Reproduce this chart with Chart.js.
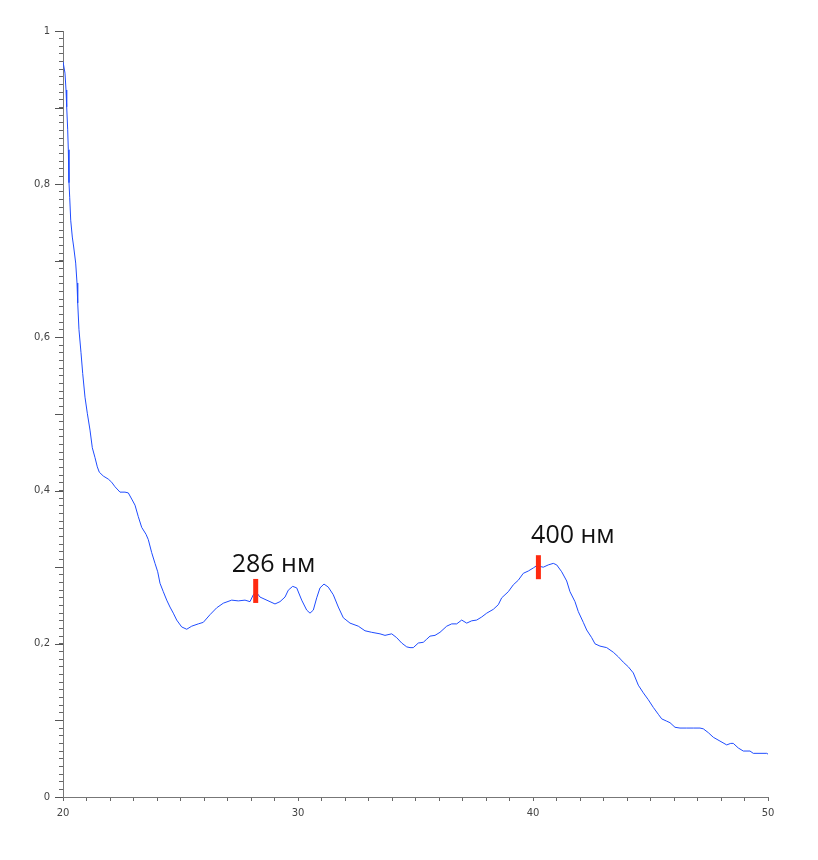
<!DOCTYPE html>
<html>
<head>
<meta charset="utf-8">
<script src="https://cdn.jsdelivr.net/npm/chart.js@4/dist/chart.umd.min.js"></script>
<style>
html,body{margin:0;padding:0;background:#fff;}
#wrap{width:818px;height:860px;}
canvas{display:block;}
</style>
</head>
<body>
<div id="wrap"><canvas id="c" width="818" height="860"></canvas></div>
<script>
// ---- data ----
const xValues = [
  20.00, 20.085, 20.128, 20.157, 20.20, 20.226, 20.255, 20.285, 20.328, 20.396,
  20.455, 20.54, 20.596, 20.626, 20.68, 20.766, 20.838, 20.936, 21.034, 21.149,
  21.247, 21.362, 21.46, 21.545, 21.715, 21.928, 22.07, 22.213, 22.426, 22.638,
  22.779, 22.923, 23.064, 23.204, 23.349, 23.532, 23.63, 23.774, 23.915, 24.03,
  24.128, 24.268, 24.413, 24.553, 24.694, 24.838, 25.051, 25.264, 25.477, 25.757,
  25.97, 26.255, 26.54, 26.821, 27.179, 27.46, 27.745, 27.957, 28.098, 28.213,
  28.383, 28.596, 28.809, 29.021, 29.234, 29.447, 29.587, 29.774, 29.945, 30.157,
  30.37, 30.511, 30.651, 30.796, 30.936, 31.106, 31.289, 31.502, 31.715, 31.928,
  32.213, 32.566, 32.851, 33.136, 33.489, 33.702, 33.987, 34.20, 34.413, 34.626,
  34.766, 34.906, 35.119, 35.332, 35.477, 35.617, 35.83, 36.043, 36.328, 36.54,
  36.753, 36.966, 37.179, 37.391, 37.604, 37.817, 38.03, 38.311, 38.523, 38.668,
  38.949, 39.162, 39.374, 39.587, 39.80, 40.013, 40.157, 40.438, 40.651, 40.864,
  41.009, 41.221, 41.434, 41.574, 41.787, 41.928, 42.14, 42.285, 42.498, 42.638,
  42.851, 43.136, 43.417, 43.63, 43.843, 44.055, 44.268, 44.481, 44.694, 44.906,
  45.119, 45.332, 45.477, 45.689, 45.83, 46.043, 46.255, 46.54, 46.821, 47.106,
  47.247, 47.46, 47.672, 47.957, 48.243, 48.413, 48.523, 48.736, 48.949, 49.234,
  49.374, 49.66, 49.945, 50.00
];
const absorbance = [
  0.960, 0.945, 0.923, 0.901, 0.871, 0.845, 0.802, 0.783, 0.753, 0.731,
  0.718, 0.697, 0.671, 0.645, 0.610, 0.580, 0.553, 0.522, 0.501, 0.479,
  0.456, 0.443, 0.431, 0.424, 0.419, 0.415, 0.411, 0.405, 0.398, 0.398,
  0.397, 0.389, 0.381, 0.366, 0.352, 0.343, 0.336, 0.319, 0.305, 0.294,
  0.279, 0.268, 0.257, 0.248, 0.240, 0.231, 0.222, 0.219, 0.223, 0.226,
  0.228, 0.238, 0.247, 0.253, 0.257, 0.256, 0.257, 0.255, 0.264, 0.268,
  0.261, 0.258, 0.255, 0.252, 0.255, 0.261, 0.270, 0.275, 0.273, 0.257,
  0.244, 0.240, 0.244, 0.260, 0.273, 0.278, 0.274, 0.264, 0.248, 0.234,
  0.227, 0.223, 0.217, 0.215, 0.213, 0.211, 0.213, 0.208, 0.201, 0.196,
  0.195, 0.195, 0.201, 0.202, 0.206, 0.210, 0.211, 0.215, 0.223, 0.226,
  0.226, 0.231, 0.227, 0.230, 0.231, 0.235, 0.240, 0.245, 0.251, 0.260,
  0.268, 0.277, 0.283, 0.292, 0.295, 0.299, 0.302, 0.300, 0.303, 0.305,
  0.303, 0.294, 0.282, 0.268, 0.255, 0.242, 0.228, 0.218, 0.208, 0.200,
  0.197, 0.195, 0.189, 0.183, 0.176, 0.170, 0.162, 0.146, 0.136, 0.127,
  0.117, 0.108, 0.102, 0.099, 0.097, 0.091, 0.090, 0.090, 0.090, 0.090,
  0.089, 0.084, 0.078, 0.073, 0.068, 0.070, 0.070, 0.064, 0.060, 0.060,
  0.057, 0.057, 0.057, 0.056
];
const xTickLabels = ['20', '30', '40', '50'];
const yTickLabels = ['0', '0,2', '0,4', '0,6', '0,8', '1'];
const peakNames = ['286 нм', '400 нм'];
const peakX = [28.2, 40.23];
const peakY = [0.269, 0.300];
const peakLabelX = [27.18, 39.92];
const peakLabelY = [0.294, 0.332];

// ---- chart ----
const points = xValues.map((x, i) => ({ x: x, y: absorbance[i] }));

const yTickValues = [];
for (let i = 0; i <= 100; i++) yTickValues.push(i / 100);
const xTickValues = [];
for (let i = 20; i <= 50; i++) xTickValues.push(i);

const annotationPlugin = {
  id: 'peakMarks',
  afterDraw(chart) {
    const ctx = chart.ctx;
    const xs = chart.scales.x, ys = chart.scales.y;
    ctx.save();
    // medium ticks on y axis at every 0.1
    ctx.strokeStyle = '#555';
    ctx.lineWidth = 1;
    for (let i = 0; i <= 10; i++) {
      const py = Math.round(ys.getPixelForValue(i / 10)) + 0.5;
      ctx.beginPath();
      ctx.moveTo(chart.chartArea.left - 8, py);
      ctx.lineTo(chart.chartArea.left, py);
      ctx.stroke();
    }
    for (let i = 0; i < peakNames.length; i++) {
      const px = xs.getPixelForValue(peakX[i]);
      const py = ys.getPixelForValue(peakY[i]);
      ctx.fillStyle = '#ff2a10';
      ctx.fillRect(px - 2.5, py - 12, 5, 24);
      ctx.fillStyle = '#111';
      ctx.font = '25px "Open Sans"';
      ctx.textAlign = 'left';
      ctx.textBaseline = 'alphabetic';
      ctx.fillText(peakNames[i], xs.getPixelForValue(peakLabelX[i]), ys.getPixelForValue(peakLabelY[i]));
    }
    ctx.restore();
  }
};

new Chart(document.getElementById('c'), {
  type: 'line',
  data: {
    datasets: [{
      data: points,
      borderColor: '#1f4cff',
      borderWidth: 1,
      pointRadius: 0,
      tension: 0,
      fill: false
    }]
  },
  options: {
    responsive: false,
    animation: false,
    devicePixelRatio: 1,
    layout: { padding: { left: 0, top: 31, right: 50, bottom: 0 } },
    plugins: { legend: { display: false }, tooltip: { enabled: false } },
    scales: {
      x: {
        type: 'linear',
        min: 20, max: 50,
        afterBuildTicks: (s) => { s.ticks = xTickValues.map(v => ({ value: v })); },
        afterFit: (s) => { s.height = 63; },
        border: { display: true, color: '#777', width: 1 },
        grid: { drawOnChartArea: false, drawTicks: true, tickLength: 4, tickColor: '#666' },
        ticks: {
          autoSkip: false, maxRotation: 0, padding: 6,
          color: '#444',
          font: { family: 'DejaVu Sans', size: 10 },
          callback: (v) => {
            const k = Math.round((v - 20) / 10);
            return Math.abs(v - (20 + k * 10)) < 1e-6 ? xTickLabels[k] : '';
          }
        }
      },
      y: {
        type: 'linear',
        min: 0, max: 1,
        afterBuildTicks: (s) => { s.ticks = yTickValues.map(v => ({ value: v })); },
        afterFit: (s) => { s.width = 63; },
        border: { display: true, color: '#777', width: 1 },
        grid: { drawOnChartArea: false, drawTicks: true, tickLength: 4, tickColor: '#666' },
        ticks: {
          autoSkip: false, padding: 9,
          color: '#444',
          font: { family: 'DejaVu Sans', size: 10 },
          callback: (v) => {
            const k = Math.round(v / 0.2);
            return Math.abs(v - k * 0.2) < 1e-6 ? yTickLabels[k] : '';
          }
        }
      }
    }
  },
  plugins: [annotationPlugin]
});
</script>
</body>
</html>
